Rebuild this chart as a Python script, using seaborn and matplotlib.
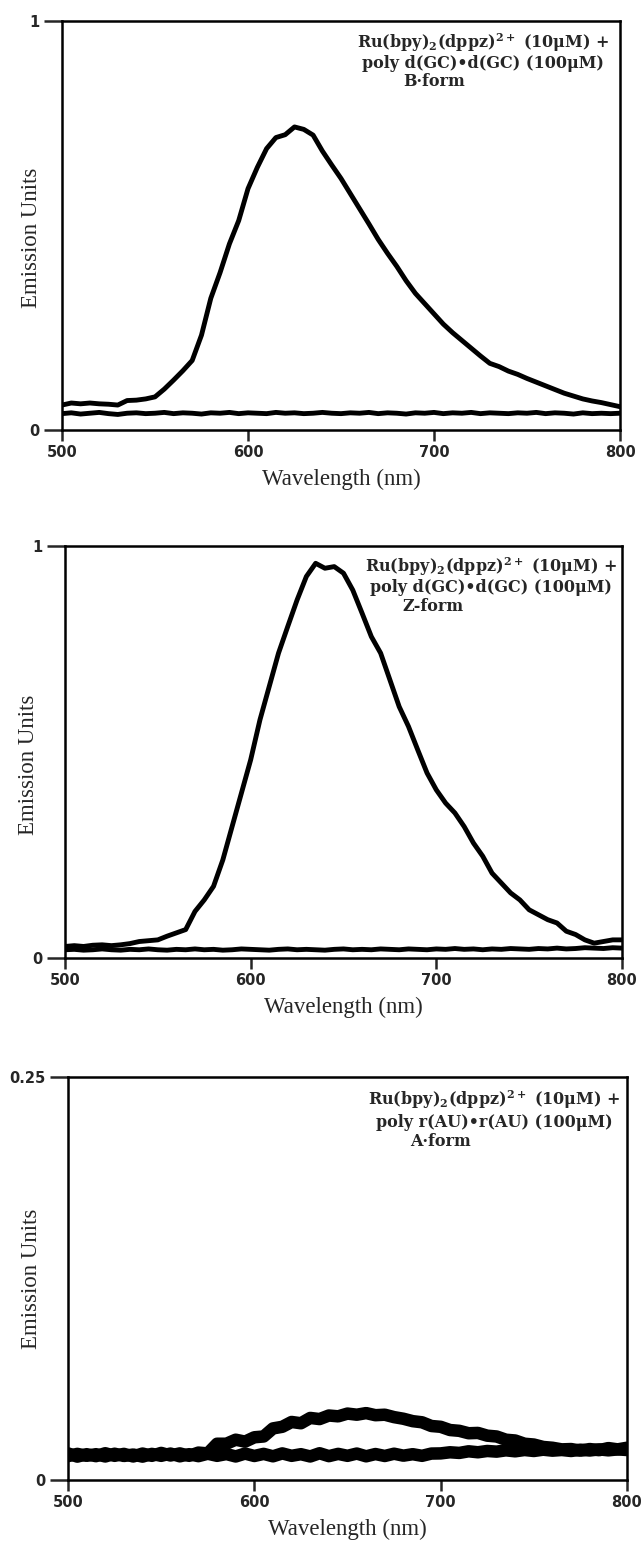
import numpy as np
import matplotlib
matplotlib.use("Agg")
import matplotlib.pyplot as plt
import seaborn as sns

# wavelength grid (nm), read every 5 nm
wavelength = list(range(500, 801, 5))

# --- B-form panel ---
b_bound = [0.061, 0.066, 0.064, 0.066, 0.064, 0.063, 0.061, 0.072, 0.073, 0.076,
           0.081, 0.100, 0.122, 0.145, 0.170, 0.232, 0.322, 0.385, 0.455, 0.512,
           0.590, 0.642, 0.688, 0.715, 0.722, 0.741, 0.735, 0.721, 0.682, 0.648,
           0.615, 0.578, 0.541, 0.504, 0.466, 0.432, 0.400, 0.365, 0.334, 0.309,
           0.284, 0.259, 0.238, 0.219, 0.200, 0.181, 0.163, 0.155, 0.144, 0.136,
           0.126, 0.117, 0.108, 0.099, 0.090, 0.083, 0.076, 0.071, 0.067, 0.062,
           0.057]
b_free = [0.040, 0.042, 0.039, 0.041, 0.043, 0.040, 0.038, 0.041, 0.042, 0.040,
          0.041, 0.043, 0.040, 0.042, 0.041, 0.039, 0.042, 0.041, 0.043, 0.040,
          0.042, 0.041, 0.040, 0.043, 0.041, 0.042, 0.040, 0.041, 0.043, 0.041,
          0.040, 0.042, 0.041, 0.043, 0.040, 0.042, 0.041, 0.039, 0.042, 0.041,
          0.043, 0.040, 0.042, 0.041, 0.043, 0.040, 0.042, 0.041, 0.040, 0.042,
          0.041, 0.043, 0.040, 0.042, 0.041, 0.039, 0.042, 0.040, 0.041, 0.040,
          0.041]

# --- Z-form panel ---
z_bound = [0.028, 0.030, 0.028, 0.031, 0.032, 0.030, 0.032, 0.035, 0.040, 0.042,
           0.044, 0.053, 0.061, 0.069, 0.113, 0.141, 0.174, 0.238, 0.319, 0.400,
           0.481, 0.578, 0.659, 0.740, 0.805, 0.869, 0.926, 0.958, 0.946, 0.950,
           0.934, 0.893, 0.837, 0.780, 0.740, 0.675, 0.610, 0.562, 0.505, 0.449,
           0.408, 0.376, 0.352, 0.319, 0.279, 0.247, 0.206, 0.182, 0.158, 0.141,
           0.117, 0.105, 0.093, 0.085, 0.065, 0.057, 0.044, 0.036, 0.040, 0.044,
           0.044]
z_free = [0.020, 0.021, 0.019, 0.020, 0.022, 0.020, 0.019, 0.021, 0.020, 0.022,
          0.020, 0.019, 0.021, 0.020, 0.022, 0.020, 0.021, 0.019, 0.020, 0.022,
          0.021, 0.020, 0.019, 0.021, 0.022, 0.020, 0.021, 0.020, 0.019, 0.021,
          0.022, 0.020, 0.021, 0.020, 0.022, 0.021, 0.020, 0.022, 0.021, 0.020,
          0.022, 0.021, 0.023, 0.021, 0.022, 0.020, 0.022, 0.021, 0.023, 0.022,
          0.021, 0.023, 0.022, 0.024, 0.022, 0.023, 0.025, 0.024, 0.023, 0.025,
          0.024]

# --- A-form panel ---
a_bound = [0.0165, 0.0145, 0.0160, 0.0148, 0.0166, 0.0150, 0.0162, 0.0146, 0.0164, 0.0150,
           0.0168, 0.0152, 0.0165, 0.0150, 0.0170, 0.0165, 0.0225, 0.0225, 0.0250, 0.0238,
           0.0265, 0.0270, 0.0320, 0.0330, 0.0360, 0.0352, 0.0385, 0.0378, 0.0400, 0.0395,
           0.0412, 0.0405, 0.0415, 0.0402, 0.0405, 0.0390, 0.0380, 0.0365, 0.0358, 0.0335,
           0.0330, 0.0310, 0.0305, 0.0290, 0.0292, 0.0275, 0.0270, 0.0250, 0.0245, 0.0225,
           0.0220, 0.0205, 0.0200, 0.0190, 0.0192, 0.0182, 0.0192, 0.0185, 0.0198, 0.0190,
           0.0200]
a_free = [0.0148, 0.0162, 0.0150, 0.0160, 0.0146, 0.0163, 0.0149, 0.0158, 0.0145, 0.0162,
          0.0150, 0.0164, 0.0147, 0.0160, 0.0148, 0.0163, 0.0150, 0.0161, 0.0146, 0.0164,
          0.0149, 0.0162, 0.0147, 0.0165, 0.0150, 0.0160, 0.0146, 0.0166, 0.0148, 0.0162,
          0.0150, 0.0164, 0.0147, 0.0161, 0.0149, 0.0163, 0.0151, 0.0160, 0.0150, 0.0164,
          0.0165, 0.0172, 0.0168, 0.0178, 0.0172, 0.0180, 0.0176, 0.0184, 0.0178, 0.0186,
          0.0180, 0.0188, 0.0182, 0.0186, 0.0180, 0.0188, 0.0183, 0.0190, 0.0184, 0.0190,
          0.0186]

y_max = [1, 1, 0.25]
y_tick_labels = [["0", "1"], ["0", "1"], ["0", "0.25"]]
x_ticks = [500, 600, 700, 800]
legend_lines = [
    ("Ru(bpy)$_2$(dppz)$^{2+}$ (10\u03bcM) +", "poly d(GC)\u2022d(GC) (100\u03bcM)", "B\u00b7form"),
    ("Ru(bpy)$_2$(dppz)$^{2+}$ (10\u03bcM) +", "poly d(GC)\u2022d(GC) (100\u03bcM)", "Z-form"),
    ("Ru(bpy)$_2$(dppz)$^{2+}$ (10\u03bcM) +", "poly r(AU)\u2022r(AU) (100\u03bcM)", "A\u00b7form"),
]
series = [(b_bound, b_free), (z_bound, z_free), (a_bound, a_free)]

sns.set_theme(style="ticks")
plt.rcParams['font.family'] = ['Liberation Serif', 'DejaVu Serif']
plt.rcParams['mathtext.fontset'] = 'custom'
plt.rcParams['mathtext.rm'] = 'DejaVu Serif:bold'
plt.rcParams['mathtext.it'] = 'DejaVu Serif:bold'

fig = plt.figure(figsize=(6.43, 15.43), dpi=100)
H = 1543.0
W = 643.0
# panel boxes in pixels: left, right, top, bottom
boxes = [(62, 620, 21, 430), (65, 622, 546, 958), (68, 627, 1077, 1480)]
ylabel_xy = [(-0.036, 0.47), (-0.047, 0.47), (-0.047, 0.5)]
# text placement (axes fraction): centre x of lines 1-2, centre x of line 3, y of the 3 lines
text_pos = [(0.754, 0.667, (0.946, 0.897, 0.851)),
            (0.765, 0.660, (0.949, 0.900, 0.854)),
            (0.762, 0.667, (0.943, 0.886, 0.839))]

for i, (l, r, t, b) in enumerate(boxes):
    ax = fig.add_axes([l / W, (H - b) / H, (r - l) / W, (b - t) / H])
    bound, free = series[i]
    lw = 3.5 if i < 2 else 9
    sns.lineplot(x=wavelength, y=bound, ax=ax, color="black", linewidth=lw)
    sns.lineplot(x=wavelength, y=free, ax=ax, color="black", linewidth=lw)
    ax.set_xlim(500, 800)
    ax.set_ylim(0, y_max[i])
    ax.set_xticks(x_ticks)
    ax.set_xticklabels([str(v) for v in x_ticks], fontfamily="DejaVu Sans",
                       fontweight="bold", fontsize=10.5)
    ax.set_yticks([0, y_max[i]])
    ax.set_yticklabels(y_tick_labels[i], fontfamily="DejaVu Sans",
                       fontweight="bold", fontsize=10.5)
    ax.tick_params(axis="y", direction="out", length=13, width=1.8, pad=3)
    ax.tick_params(axis="x", direction="out", length=8, width=1.8, pad=3)
    for s in ax.spines.values():
        s.set_visible(True)
        s.set_linewidth(1.8)
        s.set_color("black")
    ax.set_xlabel("Wavelength (nm)", fontsize=16.5, labelpad=6)
    ax.set_ylabel("Emission Units", fontsize=16.5)
    ax.yaxis.set_label_coords(*ylabel_xy[i])

    l1, l2, l3 = legend_lines[i]
    cx, cx3, ys = text_pos[i]
    ax.text(cx, ys[0], l1, transform=ax.transAxes, ha="center", va="center",
            fontsize=11.5, fontweight="bold", family="DejaVu Serif")
    ax.text(cx, ys[1], l2, transform=ax.transAxes, ha="center", va="center",
            fontsize=11.5, fontweight="bold", family="DejaVu Serif")
    ax.text(cx3, ys[2], l3, transform=ax.transAxes, ha="center", va="center",
            fontsize=11.5, fontweight="bold", family="DejaVu Serif")

fig.savefig("out.png", dpi=100)
